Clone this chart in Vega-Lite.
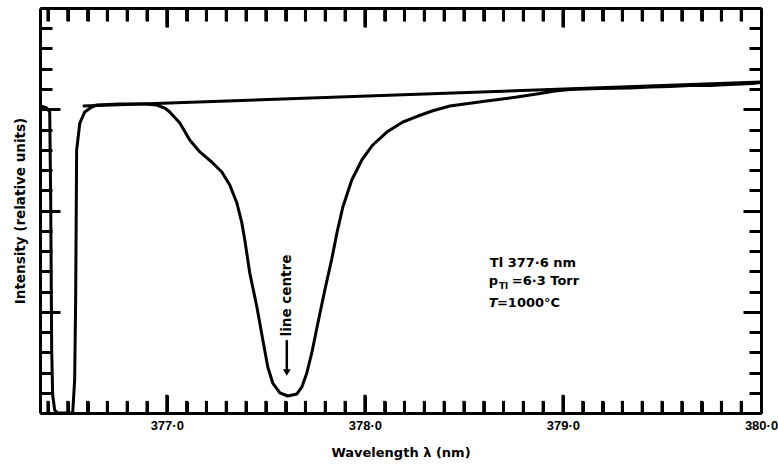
{
  "$schema": "https://vega.github.io/schema/vega-lite/v6.json",
  "width": 721,
  "height": 405,
  "autosize": {"type": "none"},
  "padding": {"left": 40, "top": 8, "right": 17, "bottom": 51},
  "background": "white",
  "config": {
    "view": {"stroke": null},
    "axis": {"grid": false, "domainColor": "black", "domainWidth": 3, "tickColor": "black", "tickWidth": 3, "labelColor": "black", "titleColor": "black"}
  },
  "datasets": {
    "trace": [
      {"wl": 376.364, "i": 3.032}, {"wl": 376.394, "i": 3.012}, {"wl": 376.409, "i": 2.973}, {"wl": 376.414, "i": 2.104},
      {"wl": 376.419, "i": 0.622}, {"wl": 376.424, "i": 0.178}, {"wl": 376.434, "i": 0.03}, {"wl": 376.449, "i": 0},
      {"wl": 376.525, "i": 0}, {"wl": 376.535, "i": 0.326}, {"wl": 376.54, "i": 1.116}, {"wl": 376.545, "i": 2.598},
      {"wl": 376.561, "i": 2.864}, {"wl": 376.586, "i": 2.973}, {"wl": 376.621, "i": 3.022}, {"wl": 376.646, "i": 3.042},
      {"wl": 376.763, "i": 3.052}, {"wl": 376.889, "i": 3.052}, {"wl": 376.949, "i": 3.042}, {"wl": 376.99, "i": 3.012},
      {"wl": 377.015, "i": 2.973}, {"wl": 377.066, "i": 2.864}, {"wl": 377.116, "i": 2.696}, {"wl": 377.167, "i": 2.578},
      {"wl": 377.227, "i": 2.479}, {"wl": 377.278, "i": 2.38}, {"wl": 377.318, "i": 2.252}, {"wl": 377.354, "i": 2.074},
      {"wl": 377.379, "i": 1.877}, {"wl": 377.394, "i": 1.709}, {"wl": 377.419, "i": 1.383}, {"wl": 377.455, "i": 1.047},
      {"wl": 377.485, "i": 0.721}, {"wl": 377.51, "i": 0.454}, {"wl": 377.535, "i": 0.296}, {"wl": 377.571, "i": 0.198},
      {"wl": 377.611, "i": 0.168}, {"wl": 377.657, "i": 0.188}, {"wl": 377.682, "i": 0.257}, {"wl": 377.707, "i": 0.395},
      {"wl": 377.732, "i": 0.593}, {"wl": 377.763, "i": 0.889}, {"wl": 377.798, "i": 1.215}, {"wl": 377.833, "i": 1.521},
      {"wl": 377.859, "i": 1.778}, {"wl": 377.889, "i": 2.035}, {"wl": 377.934, "i": 2.301}, {"wl": 377.985, "i": 2.499},
      {"wl": 378.04, "i": 2.647}, {"wl": 378.111, "i": 2.775}, {"wl": 378.192, "i": 2.874}, {"wl": 378.268, "i": 2.933},
      {"wl": 378.343, "i": 2.985}, {"wl": 378.429, "i": 3.032}, {"wl": 378.596, "i": 3.077}, {"wl": 378.768, "i": 3.121},
      {"wl": 378.884, "i": 3.156}, {"wl": 378.96, "i": 3.18}, {"wl": 379.035, "i": 3.195}, {"wl": 379.187, "i": 3.205},
      {"wl": 379.338, "i": 3.21}, {"wl": 379.439, "i": 3.22}, {"wl": 379.54, "i": 3.225}, {"wl": 379.641, "i": 3.235},
      {"wl": 379.742, "i": 3.235}, {"wl": 379.843, "i": 3.244}, {"wl": 379.955, "i": 3.254}, {"wl": 380.0, "i": 3.264}
    ],
    "base": [{"wl": 376.576, "i": 3.032}, {"wl": 380.0, "i": 3.269}],
    "xminor": [{"v": 376.4}, {"v": 376.5}, {"v": 376.6}, {"v": 376.7}, {"v": 376.8}, {"v": 376.9},
      {"v": 377.1}, {"v": 377.2}, {"v": 377.3}, {"v": 377.4}, {"v": 377.5}, {"v": 377.6}, {"v": 377.7}, {"v": 377.8}, {"v": 377.9},
      {"v": 378.1}, {"v": 378.2}, {"v": 378.3}, {"v": 378.4}, {"v": 378.5}, {"v": 378.6}, {"v": 378.7}, {"v": 378.8}, {"v": 378.9},
      {"v": 379.1}, {"v": 379.2}, {"v": 379.3}, {"v": 379.4}, {"v": 379.5}, {"v": 379.6}, {"v": 379.7}, {"v": 379.8}, {"v": 379.9}],
    "xmajor": [{"v": 377}, {"v": 378}, {"v": 379}],
    "notes": [
      {"x": 378.631, "y": 1.442, "t": "Tl 377·6 nm"},
      {"x": 378.626, "y": 1.264, "t": "p"},
      {"x": 378.742, "y": 1.264, "t": "=6·3 Torr"},
      {"x": 378.667, "y": 1.047, "t": "=1000°C"}
    ],
    "sub": [{"x": 378.677, "y": 1.225, "t": "Tl"}],
    "ital": [{"x": 378.626, "y": 1.047, "t": "T"}],
    "lc": [{"x": 377.606, "y": 1.16, "t": "line centre"}],
    "arrow": [{"x": 377.606, "y": 0.72, "y2": 0.42}],
    "head": [{"x": 377.606, "y": 0.4}]
  },
  "layer": [
    {
      "data": {"name": "trace"},
      "mark": {"type": "line", "color": "black", "strokeWidth": 3, "strokeJoin": "round"},
      "encoding": {
        "x": {"field": "wl", "type": "quantitative", "scale": {"domain": [376.36, 380.0], "nice": false, "zero": false},
          "axis": {"orient": "bottom", "values": [376.4,376.5,376.6,376.7,376.8,376.9,377,377.1,377.2,377.3,377.4,377.5,377.6,377.7,377.8,377.9,378,378.1,378.2,378.3,378.4,378.5,378.6,378.7,378.8,378.9,379,379.1,379.2,379.3,379.4,379.5,379.6,379.7,379.8,379.9,380],
            "tickSize": {"condition": {"test": "abs(datum.value - round(datum.value)) < 0.01", "value": -18}, "value": -12},
            "labelExpr": "abs(datum.value - round(datum.value)) < 0.01 ? replace(format(datum.value, '.1f'), '.', '·') : ''",
            "labelFont": "Liberation Sans", "labelFontWeight": "bold", "labelFontSize": 13, "labelPadding": 24,
            "labelFlush": false, "labelOverlap": false, "labelBaseline": "top",
            "title": "Wavelength λ (nm)", "titleFont": "DejaVu Sans", "titleFontWeight": "bold", "titleFontSize": 13, "titlePadding": 8}},
        "y": {"field": "i", "type": "quantitative", "scale": {"domain": [0, 4], "nice": false},
          "axis": {"orient": "left", "values": [0,0.2,0.4,0.6,0.8,1,1.2,1.4,1.6,1.8,2,2.2,2.4,2.6,2.8,3,3.2,3.4,3.6,3.8,4],
            "tickSize": {"condition": {"test": "abs(datum.value - round(datum.value)) < 0.01", "value": -20}, "value": -12},
            "labels": false,
            "title": "Intensity (relative units)", "titleFont": "DejaVu Sans", "titleFontWeight": "bold", "titleFontSize": 13.5, "titlePadding": 11}}
      }
    },
    {
      "data": {"name": "base"},
      "mark": {"type": "line", "color": "black", "strokeWidth": 3},
      "encoding": {
        "x": {"field": "wl", "type": "quantitative", "scale": {"domain": [376.36, 380.0], "nice": false, "zero": false},
          "axis": {"orient": "top", "values": [376.4,376.5,376.6,376.7,376.8,376.9,377,377.1,377.2,377.3,377.4,377.5,377.6,377.7,377.8,377.9,378,378.1,378.2,378.3,378.4,378.5,378.6,378.7,378.8,378.9,379,379.1,379.2,379.3,379.4,379.5,379.6,379.7,379.8,379.9,380],
            "tickSize": {"condition": {"test": "abs(datum.value - round(datum.value)) < 0.01", "value": -19}, "value": -13},
            "labels": false, "title": null}},
        "y": {"field": "i", "type": "quantitative", "scale": {"domain": [0, 4], "nice": false},
          "axis": {"orient": "right", "values": [0,0.2,0.4,0.6,0.8,1,1.2,1.4,1.6,1.8,2,2.2,2.4,2.6,2.8,3,3.2,3.4,3.6,3.8,4],
            "tickSize": {"condition": {"test": "abs(datum.value - round(datum.value)) < 0.01", "value": -18}, "value": -12},
            "labels": false, "title": null}}
      }
    },
    {
      "data": {"name": "xminor"},
      "mark": {"type": "rule", "color": "black", "strokeWidth": 3},
      "encoding": {
        "x": {"field": "v", "type": "quantitative", "scale": {"domain": [376.36, 380.0], "nice": false, "zero": false}, "axis": null},
        "y": {"datum": 0, "type": "quantitative", "scale": {"domain": [0, 4], "nice": false}, "axis": null},
        "y2": {"datum": 0.12}
      }
    },
    {
      "data": {"name": "xminor"},
      "mark": {"type": "rule", "color": "black", "strokeWidth": 3},
      "encoding": {
        "x": {"field": "v", "type": "quantitative", "scale": {"domain": [376.36, 380.0], "nice": false, "zero": false}, "axis": null},
        "y": {"datum": 4, "type": "quantitative", "scale": {"domain": [0, 4], "nice": false}, "axis": null},
        "y2": {"datum": 3.87}
      }
    },
    {
      "data": {"name": "xmajor"},
      "mark": {"type": "rule", "color": "black", "strokeWidth": 3},
      "encoding": {
        "x": {"field": "v", "type": "quantitative", "scale": {"domain": [376.36, 380.0], "nice": false, "zero": false}, "axis": null},
        "y": {"datum": 0, "type": "quantitative", "scale": {"domain": [0, 4], "nice": false}, "axis": null},
        "y2": {"datum": 0.18}
      }
    },
    {
      "data": {"name": "xmajor"},
      "mark": {"type": "rule", "color": "black", "strokeWidth": 3},
      "encoding": {
        "x": {"field": "v", "type": "quantitative", "scale": {"domain": [376.36, 380.0], "nice": false, "zero": false}, "axis": null},
        "y": {"datum": 4, "type": "quantitative", "scale": {"domain": [0, 4], "nice": false}, "axis": null},
        "y2": {"datum": 3.81}
      }
    },
    {
      "data": {"name": "notes"},
      "mark": {"type": "text", "align": "left", "baseline": "alphabetic", "font": "DejaVu Sans", "fontWeight": "bold", "fontSize": 13, "color": "black"},
      "encoding": {
        "x": {"field": "x", "type": "quantitative", "scale": {"domain": [376.36, 380.0], "nice": false, "zero": false}, "axis": null},
        "y": {"field": "y", "type": "quantitative", "scale": {"domain": [0, 4], "nice": false}, "axis": null},
        "text": {"field": "t"}
      }
    },
    {
      "data": {"name": "sub"},
      "mark": {"type": "text", "align": "left", "baseline": "alphabetic", "font": "DejaVu Sans", "fontWeight": "bold", "fontSize": 9, "color": "black"},
      "encoding": {
        "x": {"field": "x", "type": "quantitative", "scale": {"domain": [376.36, 380.0], "nice": false, "zero": false}, "axis": null},
        "y": {"field": "y", "type": "quantitative", "scale": {"domain": [0, 4], "nice": false}, "axis": null},
        "text": {"field": "t"}
      }
    },
    {
      "data": {"name": "ital"},
      "mark": {"type": "text", "align": "left", "baseline": "alphabetic", "font": "DejaVu Sans", "fontWeight": "bold", "fontStyle": "italic", "fontSize": 13, "color": "black"},
      "encoding": {
        "x": {"field": "x", "type": "quantitative", "scale": {"domain": [376.36, 380.0], "nice": false, "zero": false}, "axis": null},
        "y": {"field": "y", "type": "quantitative", "scale": {"domain": [0, 4], "nice": false}, "axis": null},
        "text": {"field": "t"}
      }
    },
    {
      "data": {"name": "lc"},
      "mark": {"type": "text", "align": "center", "baseline": "middle", "angle": 270, "font": "DejaVu Sans", "fontWeight": "bold", "fontSize": 13.5, "color": "black"},
      "encoding": {
        "x": {"field": "x", "type": "quantitative", "scale": {"domain": [376.36, 380.0], "nice": false, "zero": false}, "axis": null},
        "y": {"field": "y", "type": "quantitative", "scale": {"domain": [0, 4], "nice": false}, "axis": null},
        "text": {"field": "t"}
      }
    },
    {
      "data": {"name": "arrow"},
      "mark": {"type": "rule", "color": "black", "strokeWidth": 2.5},
      "encoding": {
        "x": {"field": "x", "type": "quantitative", "scale": {"domain": [376.36, 380.0], "nice": false, "zero": false}, "axis": null},
        "y": {"field": "y", "type": "quantitative", "scale": {"domain": [0, 4], "nice": false}, "axis": null},
        "y2": {"field": "y2"}
      }
    },
    {
      "data": {"name": "head"},
      "mark": {"type": "point", "shape": "triangle-down", "filled": true, "color": "black", "size": 60, "opacity": 1},
      "encoding": {
        "x": {"field": "x", "type": "quantitative", "scale": {"domain": [376.36, 380.0], "nice": false, "zero": false}, "axis": null},
        "y": {"field": "y", "type": "quantitative", "scale": {"domain": [0, 4], "nice": false}, "axis": null}
      }
    }
  ],
  "resolve": {"axis": {"x": "independent", "y": "independent"}}
}
